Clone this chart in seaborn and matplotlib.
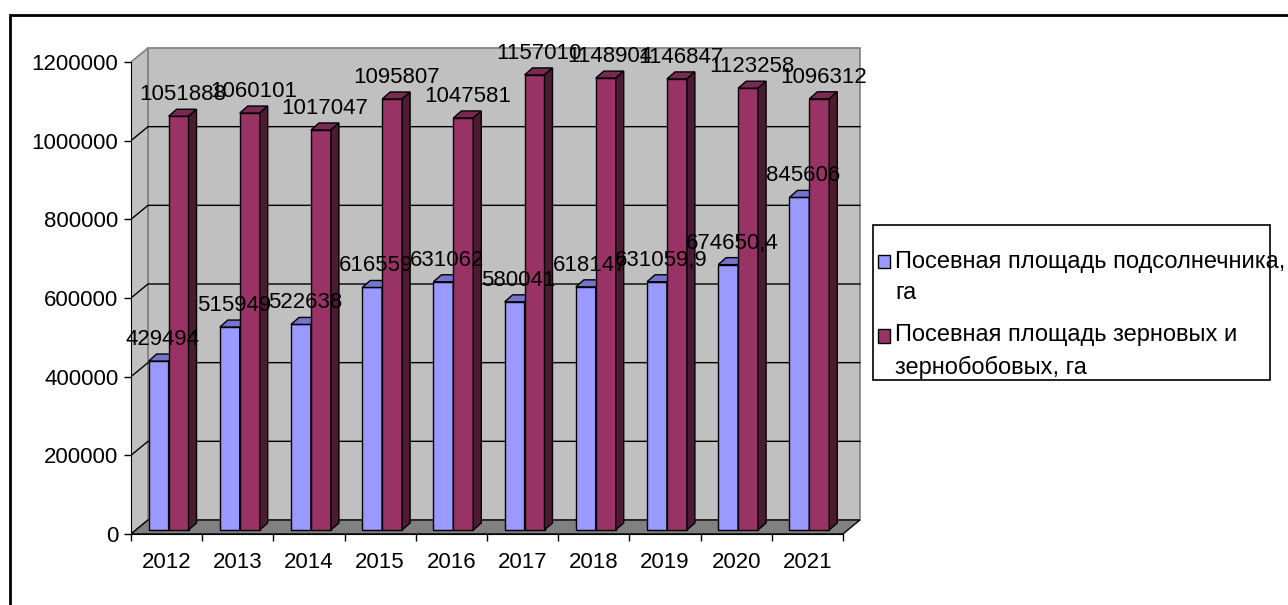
import pandas as pd
import matplotlib
matplotlib.use('Agg')
import matplotlib.pyplot as plt
import seaborn as sns
from matplotlib.patches import Polygon, Rectangle, Patch
from matplotlib.legend_handler import HandlerPatch
from matplotlib.transforms import ScaledTranslation

# ==========================
# Datos
# ==========================
years = ['2012', '2013', '2014', '2015', '2016', '2017', '2018', '2019', '2020', '2021']
sunflower = [429494, 515949, 522638, 616559, 631062, 580041, 618147, 631059.9, 674650.4, 845606]
grain = [1051888, 1060101, 1017047, 1095807, 1047581, 1157010, 1148904, 1146847, 1123258, 1096312]
y_ticks = [0, 200000, 400000, 600000, 800000, 1000000, 1200000]
series_names = ['Посевная площадь подсолнечника,\nга',
                'Посевная площадь зерновых и\nзернобобовых, га']

# colores (front, top, side)
blue = ('#9999ff', '#7474cc', '#4d4d80')
maroon = ('#993366', '#7a2952', '#4d1a33')

FS = 16

plt.rcParams['font.family'] = ['Liberation Sans', 'DejaVu Sans']

df = pd.DataFrame({
    'год': years * 2,
    'площадь': sunflower + grain,
    'серия': [series_names[0]] * len(years) + [series_names[1]] * len(years),
})

# ==========================
# Figura
# ==========================
fig = plt.figure(figsize=(12.88, 6.05), dpi=100)
ax = fig.add_axes([0.1017, 0.1174, 0.5804, 0.8451])
ax.set_facecolor('none')

sns.barplot(
    data=df, x='год', y='площадь', hue='серия',
    palette=[blue[0], maroon[0]], width=0.56, saturation=1,
    edgecolor='black', linewidth=1, legend=False, ax=ax
)
bars = sorted(list(ax.patches), key=lambda p: p.get_x())

ax.set_xlim(-0.5, 10.0)
ax.set_ylim(0, 1300000)

# pixel -> data units
xpx = 1 / 71.2
ypx = 1200000 / 472
dxw, dyw = 17 * xpx, 14 * ypx   # profundidad de la pared
dd, dh = 8 * xpx, 7 * ypx       # profundidad de las barras
x_lo, x_hi = -0.5, len(years) - 0.5
y_top = y_ticks[-1]

# paredes
ax.add_patch(Rectangle((x_lo + dxw, dyw), x_hi - x_lo, y_top, fc='#c0c0c0',
                       ec='#808080', lw=1.2, zorder=0))
ax.add_patch(Polygon([(x_lo, 0), (x_lo, y_top), (x_lo + dxw, y_top + dyw), (x_lo + dxw, dyw)],
                     closed=True, fc='#c0c0c0', ec='#808080', lw=1.2, zorder=0))
for v in y_ticks[1:-1]:
    ax.plot([x_lo, x_lo + dxw, x_hi + dxw], [v, v + dyw, v + dyw], color='black', lw=1, zorder=0.5)
# piso
ax.add_patch(Polygon([(x_lo, 0), (x_hi, 0), (x_hi + dxw, dyw), (x_lo + dxw, dyw)],
                     closed=True, fc='#808080', ec='black', lw=1, zorder=0.6))

# barras con efecto 3D
shift = ax.transData + ScaledTranslation(2 / 100, 4 / 100, fig.dpi_scale_trans)
label_map = {}
for i, y in enumerate(years):
    label_map[(i, 0)] = str(sunflower[i]).replace('.', ',')
    label_map[(i, 1)] = str(grain[i])

for k, p in enumerate(bars):
    i, s = k // 2, k % 2
    cols = blue if s == 0 else maroon
    z = 2 + i * 0.01 + s * 0.005
    p.set_transform(shift)
    p.set_zorder(z)
    x0, w, h = p.get_x(), p.get_width(), p.get_height()
    x1 = x0 + w
    ax.add_patch(Polygon([(x0, h), (x1, h), (x1 + dd, h + dh), (x0 + dd, h + dh)], closed=True,
                         fc=cols[1], ec='black', lw=1, transform=shift, zorder=z + 0.001))
    ax.add_patch(Polygon([(x1, 0), (x1, h), (x1 + dd, h + dh), (x1 + dd, dh)], closed=True,
                         fc=cols[2], ec='black', lw=1, transform=shift, zorder=z + 0.001))
    ax.text(x0 + w / 2 + dd / 2, h + dh + 4 * ypx, label_map[(i, s)], ha='center', va='bottom',
            fontsize=FS, transform=shift, zorder=5)

# ejes
for side in ['top', 'right']:
    ax.spines[side].set_visible(False)
ax.spines['left'].set_bounds(0, y_top)
ax.spines['bottom'].set_bounds(x_lo, x_hi)
ax.spines['left'].set_zorder(1)
ax.spines['bottom'].set_zorder(1)
ax.set_yticks(y_ticks)
ax.set_yticklabels([str(v) for v in y_ticks], fontsize=FS)
ax.tick_params(axis='y', direction='out', length=5, width=1, pad=4)
ax.set_xticks([x_lo + j for j in range(len(years) + 1)])
ax.set_xticklabels([])
ax.set_xticks(range(len(years)), minor=True)
ax.set_xticklabels(years, minor=True, fontsize=FS)
ax.tick_params(axis='x', which='major', direction='out', length=5, width=1)
ax.tick_params(axis='x', which='minor', length=0, pad=13)
ax.set_xlabel('')
ax.set_ylabel('')


# ==========================
# Leyenda (cuadro alineado con la primera línea)
# ==========================
def cuadro_arriba(legend, orig_handle, xdescent, ydescent, width, height, fontsize):
    return Rectangle((-xdescent, -ydescent + 0.68 * fontsize), width, height)


handles = [Patch(fc=blue[0], ec='black', lw=1), Patch(fc=maroon[0], ec='black', lw=1)]
leg = fig.legend(handles, series_names, loc='upper left',
                 bbox_to_anchor=(873 / 1288, 1 - 246 / 605), fontsize=17,
                 frameon=False, handlelength=0.5, handleheight=0.5, handletextpad=0.25,
                 labelspacing=0.85, borderpad=0.2, borderaxespad=0,
                 handler_map={Patch: HandlerPatch(patch_func=cuadro_arriba)})
for t in leg.get_texts():
    t.set_linespacing(1.55)

# marco de la leyenda
fig.add_artist(Rectangle((873 / 1288, (605 - 380) / 605), 397 / 1288, 155 / 605,
                         transform=fig.transFigure, fill=False, ec='black', lw=1.2))

# marco exterior
fig.add_artist(Rectangle((10 / 1288, -0.05), 1.2, 590 / 605 + 0.05, transform=fig.transFigure,
                         fill=False, ec='black', lw=2))

fig.savefig('out.png', dpi=100)
